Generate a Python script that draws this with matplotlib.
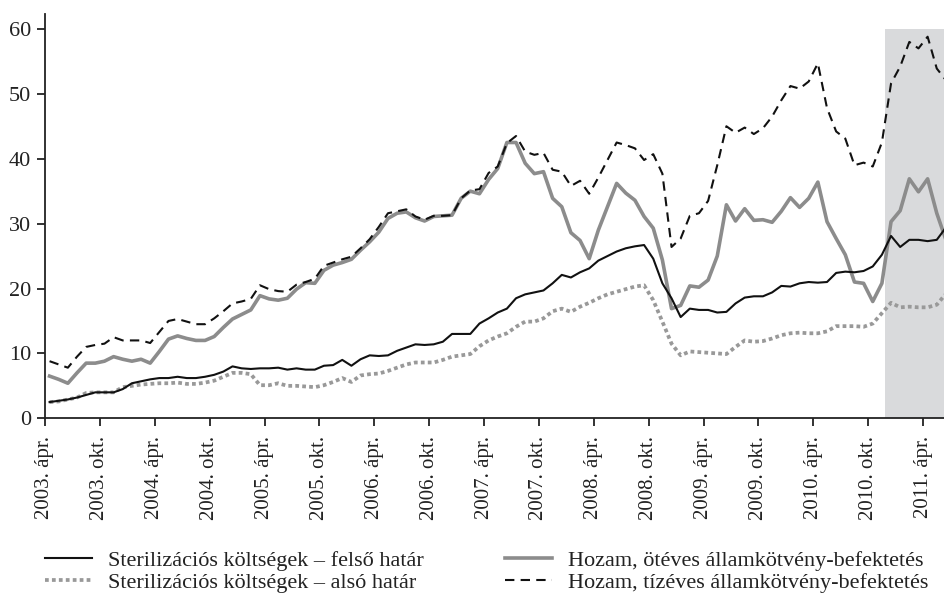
import numpy as np
import matplotlib
matplotlib.use("Agg")
import matplotlib.pyplot as plt

plt.rcParams['font.family'] = ['Liberation Serif', 'DejaVu Serif']

# monthly data, 2003. ápr. - 2011. jún.
upper = [2.5, 2.7, 2.9, 3.2, 3.6, 4.0, 4.0, 4.0, 4.5, 5.4, 5.7, 6.0, 6.2, 6.2, 6.4, 6.2, 6.2, 6.4, 6.7, 7.2,
         8.0, 7.7, 7.6, 7.7, 7.7, 7.8, 7.5, 7.7, 7.5, 7.5, 8.1, 8.2, 9.0, 8.1, 9.1, 9.7, 9.6, 9.7, 10.4, 10.9,
         11.4, 11.3, 11.4, 11.8, 13.0, 13.0, 13.0, 14.6, 15.4, 16.3, 16.9, 18.5, 19.1, 19.4, 19.7, 20.8, 22.1, 21.7, 22.5, 23.1,
         24.3, 25.0, 25.7, 26.2, 26.5, 26.7, 24.6, 20.8, 18.5, 15.6, 16.9, 16.7, 16.7, 16.3, 16.4, 17.7, 18.6, 18.8, 18.8, 19.4,
         20.4, 20.3, 20.8, 21.0, 20.9, 21.0, 22.4, 22.6, 22.5, 22.7, 23.4, 25.2, 28.1, 26.4, 27.5, 27.5, 27.3, 27.5, 29.4]
lower = [2.5, 2.6, 2.9, 3.2, 3.9, 4.0, 4.0, 4.0, 4.8, 5.0, 5.2, 5.3, 5.4, 5.4, 5.5, 5.3, 5.3, 5.5, 5.8, 6.4,
         7.0, 7.0, 6.8, 5.1, 5.1, 5.4, 5.0, 5.0, 4.9, 4.8, 5.1, 5.6, 6.2, 5.6, 6.6, 6.8, 6.9, 7.3, 7.8, 8.3,
         8.6, 8.6, 8.6, 9.0, 9.5, 9.7, 9.9, 11.1, 12.0, 12.6, 13.1, 14.1, 14.9, 14.9, 15.4, 16.5, 16.9, 16.4, 17.2, 17.8,
         18.5, 19.1, 19.5, 19.9, 20.3, 20.5, 18.2, 14.9, 11.5, 9.7, 10.3, 10.2, 10.1, 10.0, 9.9, 11.0, 12.0, 11.8, 11.9, 12.3,
         12.8, 13.1, 13.2, 13.1, 13.1, 13.4, 14.2, 14.2, 14.2, 14.1, 14.6, 16.2, 17.8, 17.1, 17.2, 17.1, 17.1, 17.5, 19.2]
yield5 = [6.5, 6.0, 5.4, 7.0, 8.5, 8.5, 8.8, 9.5, 9.1, 8.8, 9.1, 8.5, 10.3, 12.2, 12.7, 12.3, 12.0, 12.0, 12.6, 14.0,
          15.3, 16.0, 16.7, 18.9, 18.4, 18.2, 18.5, 19.9, 20.9, 20.8, 22.8, 23.6, 24.0, 24.5, 25.9, 27.2, 28.7, 30.8, 31.6, 31.8,
          30.9, 30.4, 31.1, 31.2, 31.3, 33.9, 35.0, 34.6, 36.8, 38.5, 42.5, 42.5, 39.3, 37.7, 38.0, 33.9, 32.6, 28.6, 27.4, 24.6,
          29.0, 32.6, 36.2, 34.7, 33.6, 31.1, 29.3, 24.4, 16.9, 17.4, 20.4, 20.2, 21.3, 25.0, 32.9, 30.4, 32.3, 30.5, 30.6, 30.2,
          31.9, 34.0, 32.5, 33.9, 36.4, 30.3, 27.7, 25.2, 21.0, 20.8, 18.0, 20.8, 30.3, 32.0, 36.9, 34.9, 36.9, 31.6, 27.5]
yield10 = [8.8, 8.3, 7.8, 9.5, 11.0, 11.3, 11.5, 12.5, 12.0, 12.0, 12.0, 11.6, 13.3, 15.0, 15.3, 14.9, 14.5, 14.5, 15.4, 16.5,
           17.7, 18.0, 18.4, 20.5, 19.9, 19.6, 19.5, 20.6, 21.0, 21.5, 23.5, 24.0, 24.5, 24.9, 26.2, 27.6, 29.5, 31.6, 31.9, 32.2,
           31.1, 30.6, 31.2, 31.2, 31.3, 33.9, 35.1, 35.3, 37.8, 38.8, 42.4, 43.5, 41.1, 40.6, 40.9, 38.3, 38.0, 35.8, 36.6, 34.6,
           37.1, 39.8, 42.5, 42.1, 41.6, 39.8, 40.7, 37.7, 26.4, 27.7, 31.2, 31.6, 33.5, 39.0, 45.0, 44.0, 44.8, 43.8, 44.7, 46.5,
           49.0, 51.2, 50.8, 51.9, 54.7, 47.8, 44.2, 43.1, 39.0, 39.4, 38.8, 42.5, 51.6, 54.2, 58.0, 57.0, 58.8, 53.9, 52.1]

tick_labels = ["2003. ápr.", "2003. okt.", "2004. ápr.", "2004. okt.", "2005. ápr.", "2005. okt.",
               "2006. ápr.", "2006. okt.", "2007. ápr.", "2007. okt.", "2008. ápr.", "2008. okt.",
               "2009. ápr.", "2009. okt.", "2010. ápr.", "2010. okt.", "2011. ápr."]
names = ["Sterilizációs költségek – felső határ", "Sterilizációs költségek – alsó határ",
         "Hozam, ötéves államkötvény-befektetés", "Hozam, tízéves államkötvény-befektetés"]

x = np.arange(len(upper)) + 0.5

fig = plt.figure(figsize=(9.45, 5.97), dpi=100)
ax = fig.add_axes([45 / 945, 178.7 / 597, 900 / 945, 404.3 / 597])

ymax = 62.3
ax.axvspan(91.8, 100, ymin=0, ymax=60 / ymax, color="#d9dadc", lw=0, zorder=0)

l_low, = ax.plot(x, lower, color="#999999", lw=2.7, ls=(0, (1, 0.85)), dash_capstyle="butt", zorder=2)
l_5, = ax.plot(x, yield5, color="#8c8c8c", lw=2.6, zorder=3)
l_up, = ax.plot(x, upper, color="#111111", lw=1.5, zorder=4)
l_10, = ax.plot(x, yield10, color="#111111", lw=1.5, ls=(0, (4.5, 3)), zorder=5)

ax.set_xlim(0, 98.4)
ax.set_ylim(0, ymax)
ax.set_yticks(range(0, 61, 10))
ax.set_xticks(np.arange(0, 97, 6))
ax.set_xticklabels(tick_labels, rotation=90)
ax.tick_params(axis="both", colors="#222222", width=1.3, length=6, direction="out")
ax.tick_params(axis="x", labelsize=15, pad=7)
ax.tick_params(axis="y", labelsize=16, pad=4)
for s in ["top", "right"]:
    ax.spines[s].set_visible(False)
for s in ["left", "bottom"]:
    ax.spines[s].set_linewidth(1.3)
    ax.spines[s].set_color("#222222")

kw = dict(frameon=False, fontsize=16, handlelength=2.1, handletextpad=0.75, labelspacing=0.08,
          borderpad=0, borderaxespad=0, labelcolor="#222222")
fig.legend([l_up, l_low], names[:2], loc="upper left", bbox_to_anchor=(45 / 945, 1 - 550 / 597), **kw)
fig.legend([l_5, l_10], names[2:], loc="upper left", bbox_to_anchor=(505 / 945, 1 - 550 / 597), **kw)

fig.savefig("out.png", dpi=100)
